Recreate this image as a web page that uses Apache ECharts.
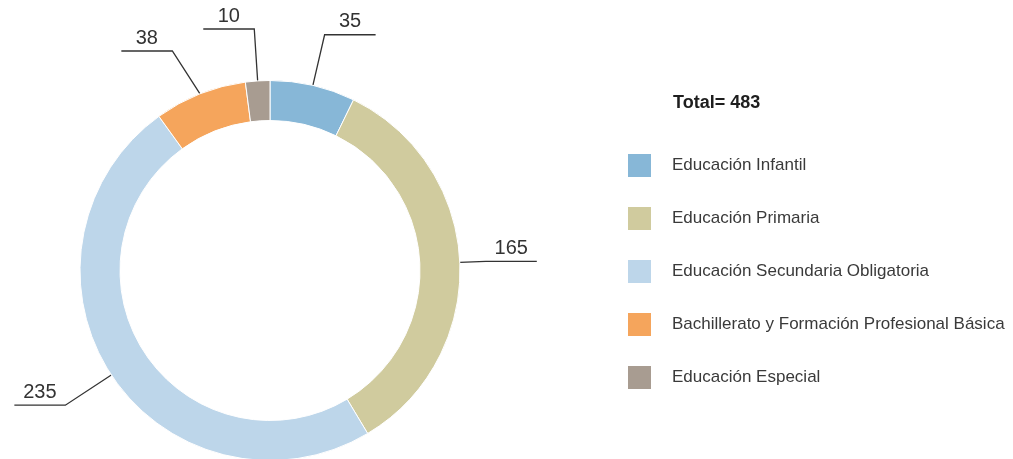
<!DOCTYPE html>
<html>
<head>
<meta charset="utf-8">
<script src="https://cdn.jsdelivr.net/npm/echarts@6/dist/echarts.min.js"></script>
<style>
html,body{margin:0;padding:0;background:#fff;}
#main{width:1013px;height:459px;}
</style>
</head>
<body>
<div id="main"></div>
<script>
const categories = [
  'Educación Infantil',
  'Educación Primaria',
  'Educación Secundaria Obligatoria',
  'Bachillerato y Formación Profesional Básica',
  'Educación Especial'
];
const values = [35, 165, 235, 38, 10];
const colors = ['#87b7d7', '#d0cb9e', '#bdd6ea', '#f5a55c', '#a89c91'];
const totalLabel = 'Total= ';

const total = values.reduce((a, b) => a + b, 0);
const FONT = '"Liberation Sans", Arial, sans-serif';
// per-slice label-line lengths (style only)
const lineLen = {1: 26, 2: 55};

const chart = echarts.init(document.getElementById('main'), null, {renderer: 'canvas'});
chart.setOption({
  animation: false,
  backgroundColor: '#ffffff',
  color: colors,
  title: {
    text: totalLabel + total,
    left: 668,
    top: 89,
    textStyle: {fontFamily: FONT, fontWeight: 'bold', fontSize: 18, color: '#1e1e1e'}
  },
  legend: {
    orient: 'vertical',
    left: 628,
    top: 154,
    padding: 0,
    itemWidth: 23,
    itemHeight: 23,
    itemGap: 30,
    icon: 'rect',
    selectedMode: false,
    itemStyle: {borderWidth: 0},
    data: categories,
    textStyle: {fontFamily: FONT, fontSize: 17, color: '#3a3a3a', padding: [0, 0, 0, 16]}
  },
  series: [{
    type: 'pie',
    center: [270, 270.5],
    radius: [150, 190],
    startAngle: 90,
    clockwise: true,
    avoidLabelOverlap: true,
    itemStyle: {borderColor: '#ffffff', borderWidth: 1},
    label: {
      show: true,
      position: 'outside',
      formatter: '{c}',
      width: 50,
      fontFamily: FONT,
      fontSize: 20,
      color: '#333333'
    },
    labelLine: {
      show: true,
      length: 52,
      length2: 51,
      lineStyle: {color: '#333333', width: 1.3}
    },
    labelLayout: function (p) {
      const pts = p.labelLinePoints;
      if (!pts || pts.length < 3) return {};
      const p1 = pts[1], p2 = pts[2];
      return {
        x: (p1[0] + p2[0]) / 2,
        y: p2[1] - 3,
        align: 'center',
        verticalAlign: 'bottom',
        labelLinePoints: pts
      };
    },
    emphasis: {disabled: true},
    data: categories.map((name, i) => {
      const d = {name: name, value: values[i]};
      if (lineLen[i] != null) d.labelLine = {length: lineLen[i]};
      return d;
    })
  }]
});
</script>
</body>
</html>
